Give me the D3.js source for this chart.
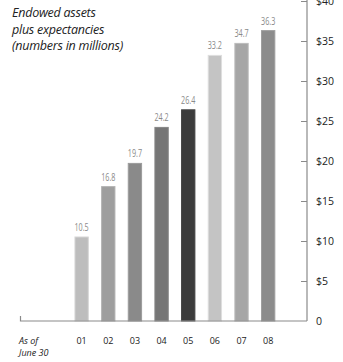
<!DOCTYPE html>
<html>
<head>
<meta charset="utf-8">
<script src="https://cdn.jsdelivr.net/npm/d3@7"></script>
<style>
  html, body { margin: 0; padding: 0; background: #fff; }
  svg { display: block; }
</style>
</head>
<body>
<svg id="chart" width="343" height="362"></svg>
<script>
// Fiscal years (as of June 30) and endowed assets plus expectancies, $ millions
const years = ["01", "02", "03", "04", "05", "06", "07", "08"];
const values = [10.5, 16.8, 19.7, 24.2, 26.4, 33.2, 34.7, 36.3];
const barColors = ["#bdbdbd", "#9e9e9e", "#8a8a8a", "#767676", "#3c3c3c", "#c4c4c4", "#a6a6a6", "#8c8c8c"];
const yTicks = [0, 5, 10, 15, 20, 25, 30, 35, 40];
const titleLines = ["Endowed assets", "plus expectancies", "(numbers in millions)"];
const dateLines = ["As of", "June 30"];

const svg = d3.select("#chart");

const x = d3.scaleBand().domain(years).range([68.3, 281.5]).paddingInner(0.5).paddingOuter(0.25);
const y = d3.scaleLinear().domain([0, 40]).range([321, 1]);

const axisX = 307;
const sans = "'Open Sans', 'Noto Sans', sans-serif";

// Bars
svg.append("g").selectAll("rect")
  .data(values)
  .join("rect")
  .attr("x", (d, i) => x(years[i]))
  .attr("y", d => y(d))
  .attr("width", x.bandwidth())
  .attr("height", d => y(0) - y(d))
  .attr("fill", (d, i) => barColors[i])
  .attr("stroke", (d, i) => d3.color(barColors[i]).brighter(0.35))
  .attr("stroke-width", 1);

// Value labels above bars, set in a condensed face
svg.append("g").selectAll("text")
  .data(values)
  .join("text")
  .attr("transform", (d, i) =>
    `translate(${x(years[i]) + x.bandwidth() / 2},${y(d) - 6}) scale(0.72,1)`)
  .attr("text-anchor", "middle")
  .attr("font-family", sans)
  .attr("font-size", 10)
  .attr("fill", "#8a8a8a")
  .text(d => d.toFixed(1));

// Right-hand value axis
const yAxis = d3.axisLeft(y)
  .tickValues(yTicks)
  .tickSize(6)
  .tickFormat("");
const yg = svg.append("g").attr("transform", `translate(${axisX},0)`).call(yAxis);
yg.select(".domain").remove();
yg.selectAll(".tick line").attr("stroke", "#8a8a8a").attr("stroke-width", 1)
  .filter(d => d === 0).remove();
svg.append("line")
  .attr("x1", axisX).attr("x2", axisX)
  .attr("y1", 0).attr("y2", y(0))
  .attr("stroke", "#8a8a8a").attr("stroke-width", 1.2);

svg.append("g").selectAll("text")
  .data(yTicks)
  .join("text")
  .attr("x", 316)
  .attr("y", d => y(d) + 4)
  .attr("font-family", sans)
  .attr("font-size", 10.5)
  .attr("fill", "#222")
  .text(d => d === 0 ? "0" : "$" + d);

// Baseline with a small upturn at its left end
svg.append("path")
  .attr("d", `M20.5,${y(0) - 5}V${y(0)}H${axisX}`)
  .attr("fill", "none")
  .attr("stroke", "#8a8a8a")
  .attr("stroke-width", 1.2);

// Year labels
svg.append("g").selectAll("text")
  .data(years)
  .join("text")
  .attr("x", d => x(d) + x.bandwidth() / 2)
  .attr("y", 344)
  .attr("text-anchor", "middle")
  .attr("font-family", sans)
  .attr("font-size", 9)
  .attr("fill", "#222")
  .text(d => d);

svg.append("g").selectAll("text")
  .data(dateLines)
  .join("text")
  .attr("x", 19)
  .attr("y", (d, i) => 344 + i * 12)
  .attr("font-family", sans)
  .attr("font-style", "italic")
  .attr("font-size", 9)
  .attr("fill", "#222")
  .text(d => d);

// Title
svg.append("g").selectAll("text")
  .data(titleLines)
  .join("text")
  .attr("x", 12)
  .attr("y", (d, i) => 17 + i * 16.5)
  .attr("font-family", sans)
  .attr("font-style", "italic")
  .attr("font-size", 12.5)
  .attr("letter-spacing", -0.25)
  .attr("fill", "#222")
  .text(d => d);
</script>
</body>
</html>
